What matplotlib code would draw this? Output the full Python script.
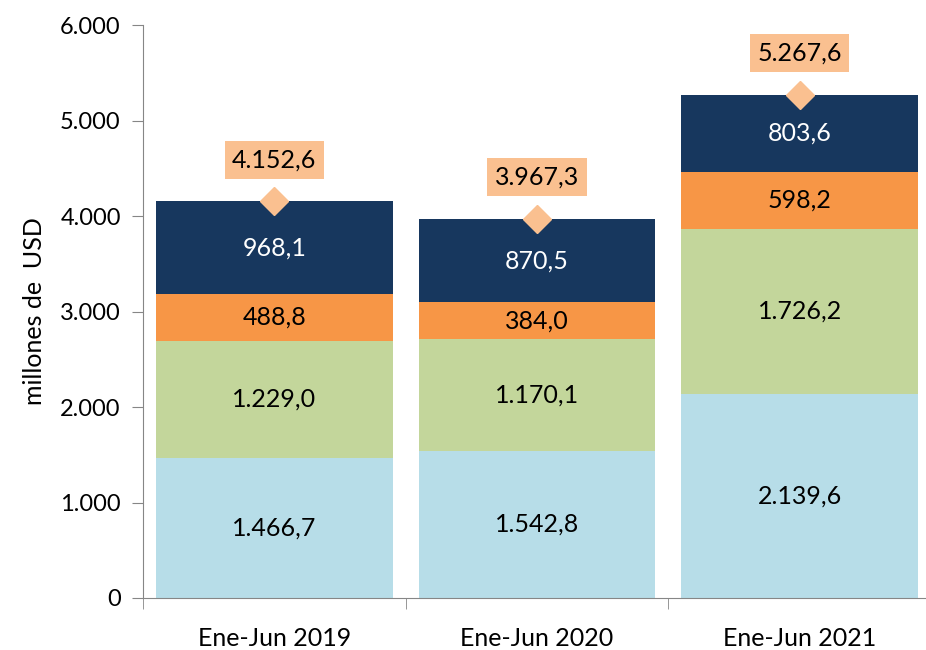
import matplotlib.pyplot as plt
import numpy as np

# --- datos ---
periodos = ['Ene-Jun 2019', 'Ene-Jun 2020', 'Ene-Jun 2021']
serie_1 = [1466.7, 1542.8, 2139.6]
serie_2 = [1229.0, 1170.1, 1726.2]
serie_3 = [488.8, 384.0, 598.2]
serie_4 = [968.1, 870.5, 803.6]
totales = [4152.6, 3967.3, 5267.6]

colores = ['#B7DDE8', '#C3D69B', '#F79646', '#17375E']
color_texto = ['black', 'black', 'black', 'white']


def fmt_es(v):
    s = f'{v:,.1f}'
    return s.replace(',', 'X').replace('.', ',').replace('X', '.')


plt.rcParams['font.family'] = ['Lato', 'DejaVu Sans']

fig = plt.figure(figsize=(9.26, 6.5), dpi=100)
ax = fig.add_axes([0.1544, 0.08, 0.851, 0.8815])

x = np.arange(len(periodos))
base = np.zeros(len(periodos))
for serie, col, tcol in zip([serie_1, serie_2, serie_3, serie_4], colores, color_texto):
    vals = np.array(serie)
    ax.bar(x, vals, 0.9, bottom=base, color=col, edgecolor='none')
    for xi, b, v in zip(x, base, vals):
        ax.text(xi, b + v / 2, fmt_es(v), ha='center', va='center',
                fontsize=18, color=tcol)
    base = base + vals

ax.plot(x, totales, linestyle='none', marker='D', markersize=14,
        color='#FAC090', zorder=5)
for xi, t in zip(x, totales):
    ax.annotate(fmt_es(t), (xi, t), xytext=(0, 30), textcoords='offset points',
                ha='center', va='center', fontsize=18,
                bbox=dict(boxstyle='square,pad=0.3', facecolor='#FAC090', edgecolor='none'))

ax.set_xlim(-0.5, 2.5)
ax.set_ylim(0, 6000)
ax.set_yticks(np.arange(0, 6001, 1000))
ax.set_yticklabels([fmt_es(v)[:-2] for v in np.arange(0, 6001, 1000)])
ax.set_xticks(x)
ax.set_xticklabels(periodos)
ax.set_xticks([-0.5, 0.5, 1.5, 2.5], minor=True)
ax.tick_params(axis='x', which='major', length=0, labelsize=18, pad=21)
ax.tick_params(axis='x', which='minor', length=8, direction='out', color='#868686')
ax.tick_params(axis='y', length=8, direction='out', color='#868686', labelsize=17, pad=8)
ax.set_ylabel('millones de  USD', fontsize=18, labelpad=10)

for s in ['top', 'right']:
    ax.spines[s].set_visible(False)
for s in ['left', 'bottom']:
    ax.spines[s].set_color('#868686')

plt.savefig('out.png', dpi=100)
